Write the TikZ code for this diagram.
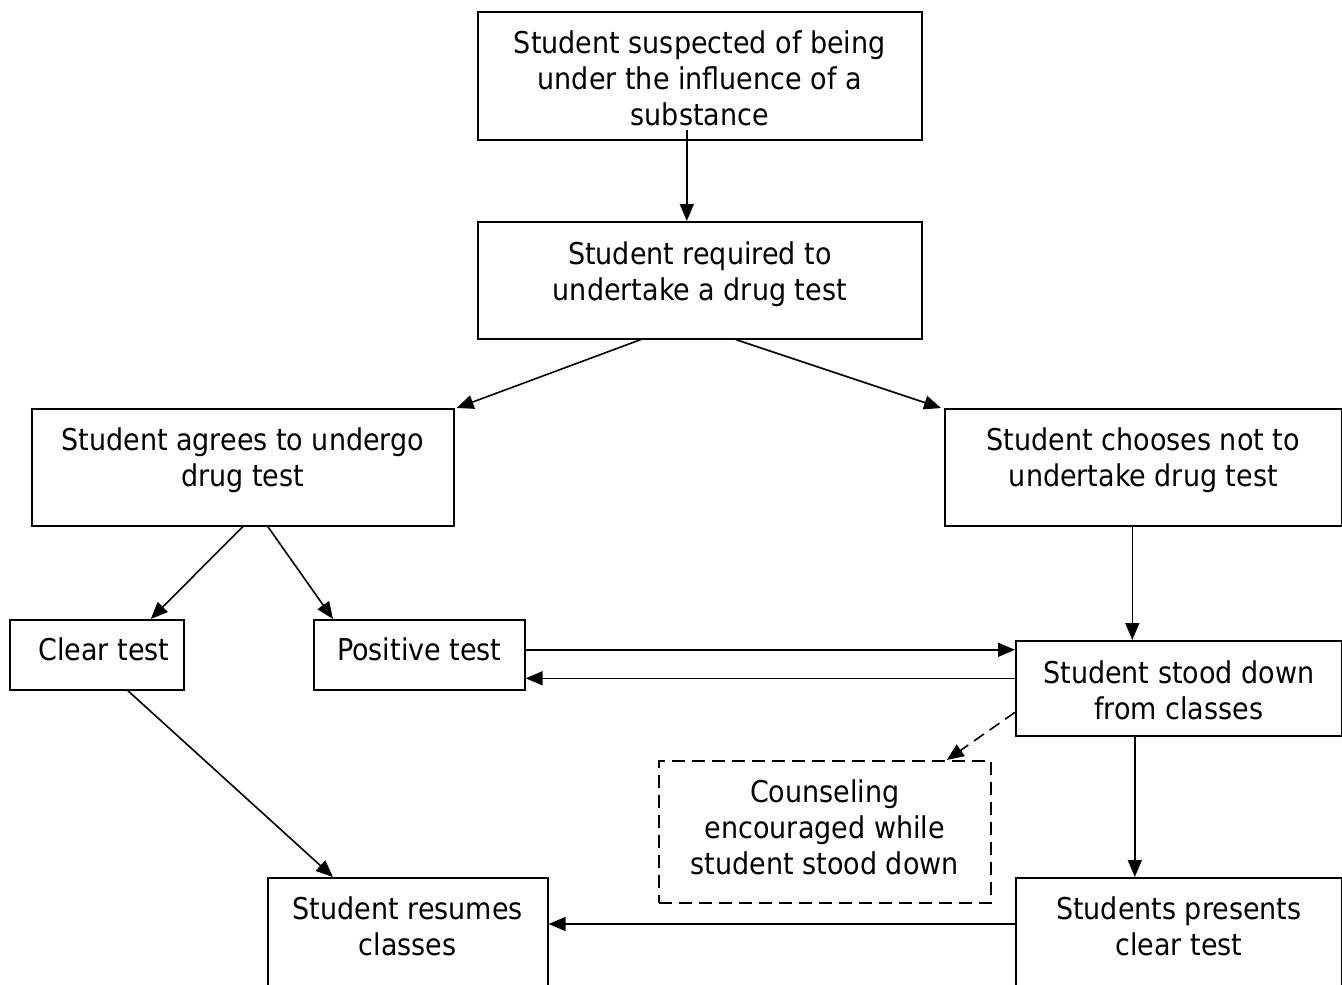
\documentclass[tikz,border=0pt]{standalone}
\usepackage{fontspec}
\setmainfont{DejaVu Sans Condensed}
\usetikzlibrary{arrows.meta}

\tikzset{
  box/.style={draw, line width=1.6pt, anchor=north west, inner sep=0pt},
  boxtext/.style={anchor=north, align=center, inner sep=0pt,
    font=\fontsize{30}{36}\selectfont},
  flow/.style={-{Triangle[length=17pt,width=14pt]}, line width=1.6pt},
  dashflow/.style={flow, dash pattern=on 12pt off 7pt}
}

\begin{document}
\begin{tikzpicture}[x=1pt, y=-1pt]
  \clip (0,0) rectangle (1342,985);

  % boxes
  \node[box, minimum width=444pt, minimum height=128pt] (sus) at (477,11) {};
  \node[box, minimum width=444pt, minimum height=117pt] (req) at (477,221) {};
  \node[box, minimum width=422pt, minimum height=117pt] (agree) at (31,408) {};
  \node[box, minimum width=397pt, minimum height=117pt] (refuse) at (944,408) {};
  \node[box, minimum width=174pt, minimum height=70pt] (clear) at (9,619) {};
  \node[box, minimum width=211pt, minimum height=70pt] (pos) at (313,619) {};
  \node[box, minimum width=326pt, minimum height=95pt] (stood) at (1015,640) {};
  \node[box, dash pattern=on 13pt off 7pt, minimum width=332pt, minimum height=142pt] (couns) at (658,760) {};
  \node[box, minimum width=280pt, minimum height=150pt] (resume) at (267,877) {};
  \node[box, minimum width=326pt, minimum height=150pt] (present) at (1015,877) {};

  % texts
  \node[boxtext] (sustxt) at ([yshift=-20pt]sus.north) {Student suspected of being\\under the influence of a\\substance};
  \node[boxtext] (reqtxt) at ([yshift=-21pt]req.north) {Student required to\\undertake a drug test};
  \node[boxtext] (agreetxt) at ([yshift=-20pt]agree.north) {Student agrees to undergo\\drug test};
  \node[boxtext] (refusetxt) at ([yshift=-20pt]refuse.north) {Student chooses not to\\undertake drug test};
  \node[boxtext] (cleartxt) at ([xshift=7pt,yshift=-19pt]clear.north) {Clear test};
  \node[boxtext] (postxt) at ([yshift=-19pt]pos.north) {Positive test};
  \node[boxtext] (stoodtxt) at ([yshift=-21pt]stood.north) {Student stood down\\from classes};
  \node[boxtext] (counstxt) at ([yshift=-19pt]couns.north) {Counseling\\encouraged while\\student stood down};
  \node[boxtext] (resumetxt) at ([yshift=-19pt]resume.north) {Student resumes\\classes};
  \node[boxtext] (presenttxt) at ([yshift=-19pt]present.north) {Students presents\\clear test};

  % connectors
  \draw[flow] ([xshift=-13pt,yshift=11pt]sus.south) -- ([xshift=-13pt]req.north);
  \draw[flow] ([xshift=-59pt]req.south) -- ([xshift=2pt]agree.north east);
  \draw[flow] ([xshift=36pt]req.south) -- ([xshift=-3pt]refuse.north west);
  \draw[flow] (agree.south) -- ([xshift=54pt]clear.north);
  \draw[flow] ([xshift=25pt]agree.south) -- ([xshift=20pt]pos.north west);
  \draw[flow] ([xshift=-11pt]refuse.south) -- ([xshift=-11pt]refuse.south |- stood.north);
  \draw[flow] ([yshift=5pt]pos.east) -- ([yshift=5pt]pos.east -| stood.west);
  \draw[flow] ([yshift=10pt]stood.west) -- ([yshift=10pt]stood.west -| pos.east);
  \draw[dashflow] ([yshift=-24pt]stood.west) -- ([xshift=122pt]couns.north);
  \draw[flow] ([xshift=31pt]clear.south) -- ([xshift=66pt]resume.north west);
  \draw[flow] ([xshift=-44pt]stood.south) -- ([xshift=-44pt]present.north);
  \draw[flow] ([yshift=-47pt]present.north west) -- ([yshift=-47pt]resume.north east);
\end{tikzpicture}
\end{document}
